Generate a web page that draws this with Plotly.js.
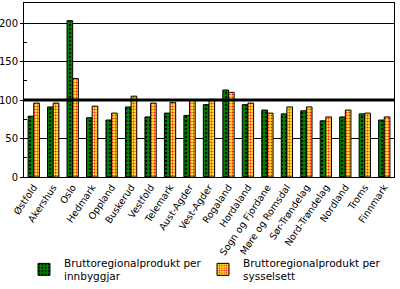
<!DOCTYPE html>
<html><head><meta charset="utf-8">
<script src="https://cdn.plot.ly/plotly-3.0.1.min.js"></script>
<style>body{margin:0;background:#fff}#c{width:400px;height:289px}</style>
</head><body><div id="c"></div>
<script>
const categories = ["Østfold","Akershus","Oslo","Hedmark","Oppland","Buskerud","Vestfold","Telemark","Aust-Agder","Vest-Agder","Rogaland","Hordaland","Sogn og Fjordane","Møre og Romsdal","Sør-Trøndelag","Nord-Trøndelag","Nordland","Troms","Finnmark"];
const perInnbyggjar = [79,91,203,77,74,91,78,83,80,94,113,94,87,82,86,73,78,82,74];
const perSysselsett = [96,96,128,92,83,105,96,97,100,101,110,96,83,91,91,78,87,83,78];
const seriesNames = ["Bruttoregionalprodukt per<br>innbyggjar","Bruttoregionalprodukt per<br>sysselsett"];
const yTicks = [0,50,100,150,200];

const traces = [
 {type:"bar", x:categories, y:perInnbyggjar, name:seriesNames[0],
  marker:{color:"#008000", line:{color:"#000",width:1},
   pattern:{shape:".", fgcolor:"#000", bgcolor:"#008000", size:4, solidity:0.25, fillmode:"replace"}}},
 {type:"bar", x:categories, y:perSysselsett, name:seriesNames[1],
  marker:{color:"#ff9090", line:{color:"#000",width:1},
   pattern:{shape:".", fgcolor:"#ff1a1a", bgcolor:"#ffee30", size:3, solidity:0.4, fillmode:"replace"}}}
];
const layout = {
 width:400, height:289, margin:{l:24,r:6,t:3,b:112, autoexpand:false},
 paper_bgcolor:"#fff", plot_bgcolor:"#fff",
 font:{family:"DejaVu Sans", size:10, color:"#000"},
 barmode:"group", bargap:0.42, bargroupgap:0,
 showlegend:true,
 legend:{orientation:"h", x:0.0, xanchor:"left", y:-0.415, yanchor:"top", bgcolor:"rgba(0,0,0,0)",
  entrywidth:134, entrywidthmode:"pixels", font:{size:10.5}, tracegroupgap:0, itemwidth:30},
 xaxis:{type:"category", tickangle:-56, automargin:false, showline:true, linecolor:"#000", linewidth:1, mirror:true,
  ticks:"", showgrid:false, tickfont:{size:9.5}},
 yaxis:{range:[0,226], automargin:false, tickvals:yTicks, ticks:"outside", ticklen:3, tickcolor:"#000",
  showline:true, linecolor:"#000", linewidth:1, mirror:true,
  showgrid:true, gridcolor:"#000", gridwidth:1, zeroline:false, tickfont:{size:10},
  minor:{tickvals:[25,75,125,175], ticks:"inside", ticklen:3, tickcolor:"#000", showgrid:false}},
 shapes:[{type:"line", xref:"paper", x0:0, x1:1, yref:"y", y0:100, y1:100, line:{color:"#000", width:3}}]
};
Plotly.newPlot("c", traces, layout, {displayModeBar:false, staticPlot:true});
</script></body></html>
